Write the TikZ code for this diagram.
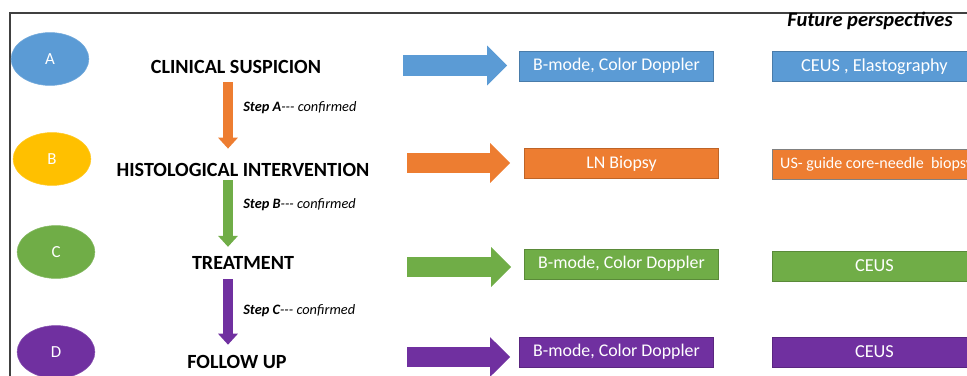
\documentclass[tikz,border=0pt]{standalone}
\usepackage{fontspec}
\setmainfont{Carlito}
\usetikzlibrary{positioning,arrows.meta,calc,shapes.geometric}
\definecolor{stepblue}{HTML}{5B9BD5}
\definecolor{steporange}{HTML}{ED7D31}
\definecolor{stepyellow}{HTML}{FFC000}
\definecolor{stepgreen}{HTML}{70AD47}
\definecolor{steppurple}{HTML}{7030A0}
\definecolor{framegray}{HTML}{404040}
\tikzset{
  badge/.style={ellipse, draw=#1!85!white, fill=#1, text=white, minimum width=55.3pt, minimum height=37.6pt, inner sep=0pt, font=\fontsize{12pt}{14pt}\selectfont},
  stage/.style={inner sep=0pt, font=\fontsize{14.3pt}{16pt}\selectfont\bfseries},
  note/.style={inner sep=0pt, anchor=west, font=\fontsize{10.2pt}{12pt}\selectfont\itshape},
  tbox/.style={draw=#1!80!black, line width=0.4pt, fill=#1, text=white, minimum width=138.2pt, minimum height=21.3pt, inner sep=0pt, font=\fontsize{12.7pt}{14pt}\selectfont},
  fbox/.style={tbox=#1, minimum width=145.3pt, anchor=west, font=\fontsize{13pt}{15pt}\selectfont},
  vstep/.style={draw=#1, line width=7.1pt, -{Triangle[length=7.8pt, width=14.2pt, line width=0pt]}},
  harrow/.style={draw=#1, line width=14.9pt, -{Triangle[length=14.2pt, width=28.3pt, line width=0pt]}}}

\begin{document}
\begin{tikzpicture}[x=0.025cm, y=-0.025cm]
\useasboundingbox (0,0) rectangle (967,375);
\clip (0,0) rectangle (967,375);
\draw[framegray, line width=0.9pt] (10,380) -- (10,13) -- (975,13);
% letters
\node[badge=stepblue] (a) at (50,59) {A};
\node[badge=stepyellow] (b) at (52,159) {B};
\node[badge=stepgreen] (c) at (56,252) {C};
\node[badge=steppurple] (d) at (56,352) {D};
% stages
\node[stage] (cs) at (236,67) {CLINICAL SUSPICION};
\node[stage] (hi) at (243,170) {HISTOLOGICAL INTERVENTION};
\node[stage] (tr) at (243,263) {TREATMENT};
\node[stage] (fu) at (237,362) {FOLLOW UP};
\coordinate (axis) at (228,0);
\draw[vstep=steporange, shorten <=6pt, shorten >=10.3pt] (cs.south -| axis) -- (hi.north -| axis);
\draw[vstep=stepgreen, shorten <=2.5pt, shorten >=6.7pt] (hi.south -| axis) -- (tr.north -| axis);
\draw[vstep=steppurple, shorten <=6.7pt, shorten >=7.4pt] (tr.south -| axis) -- (fu.north -| axis);
\node[note] (na) at (243,108) {\textbf{Step A}-{}-{}- confirmed};
\node[note] (nb) at (243,205) {\textbf{Step B}-{}-{}- confirmed};
\node[note] (nc) at (243,311) {\textbf{Step C}-{}-{}- confirmed};
% imaging
\node[tbox=stepblue] (m1) at (616.5,66) {B-mode, Color Doppler};
\node[tbox=steporange] (m2) at (621.5,163.5) {LN Biopsy};
\node[tbox=stepgreen] (m3) at (621.5,264) {B-mode, Color Doppler};
\node[tbox=steppurple] (m4) at (616.5,352) {B-mode, Color Doppler};
\coordinate (h1) at (403,65.5);
\coordinate (h2) at (407,163);
\coordinate (h3) at (407,267);
\coordinate (h4) at (407,357);
\draw[harrow=stepblue, shorten >=8.5pt] (h1) -- (h1 -| m1.west);
\draw[harrow=steporange, shorten >=9.9pt] (h2) -- (h2 -| m2.west);
\draw[harrow=stepgreen, shorten >=9.2pt] (h3) -- (h3 -| m3.west);
\draw[harrow=steppurple, shorten >=6.4pt] (h4) -- (h4 -| m4.west);
% future perspectives
\node[inner sep=0pt, font=\fontsize{14.6pt}{16pt}\selectfont\bfseries\itshape] (fp) at (870,21) {Future perspectives};
\node[fbox=stepblue] (f1) at (772,66.5) {CEUS , Elastography};
\node[fbox=steporange, draw=gray, font=\fontsize{11.4pt}{13pt}\selectfont] (f2) at (772,164.5) {\makebox[134pt][l]{US- guide core-needle\ \ biopsy}};
\node[fbox=stepgreen] (f3) at (772,266) {CEUS};
\node[fbox=steppurple] (f4) at (772,352) {CEUS};
\end{tikzpicture}
\end{document}
